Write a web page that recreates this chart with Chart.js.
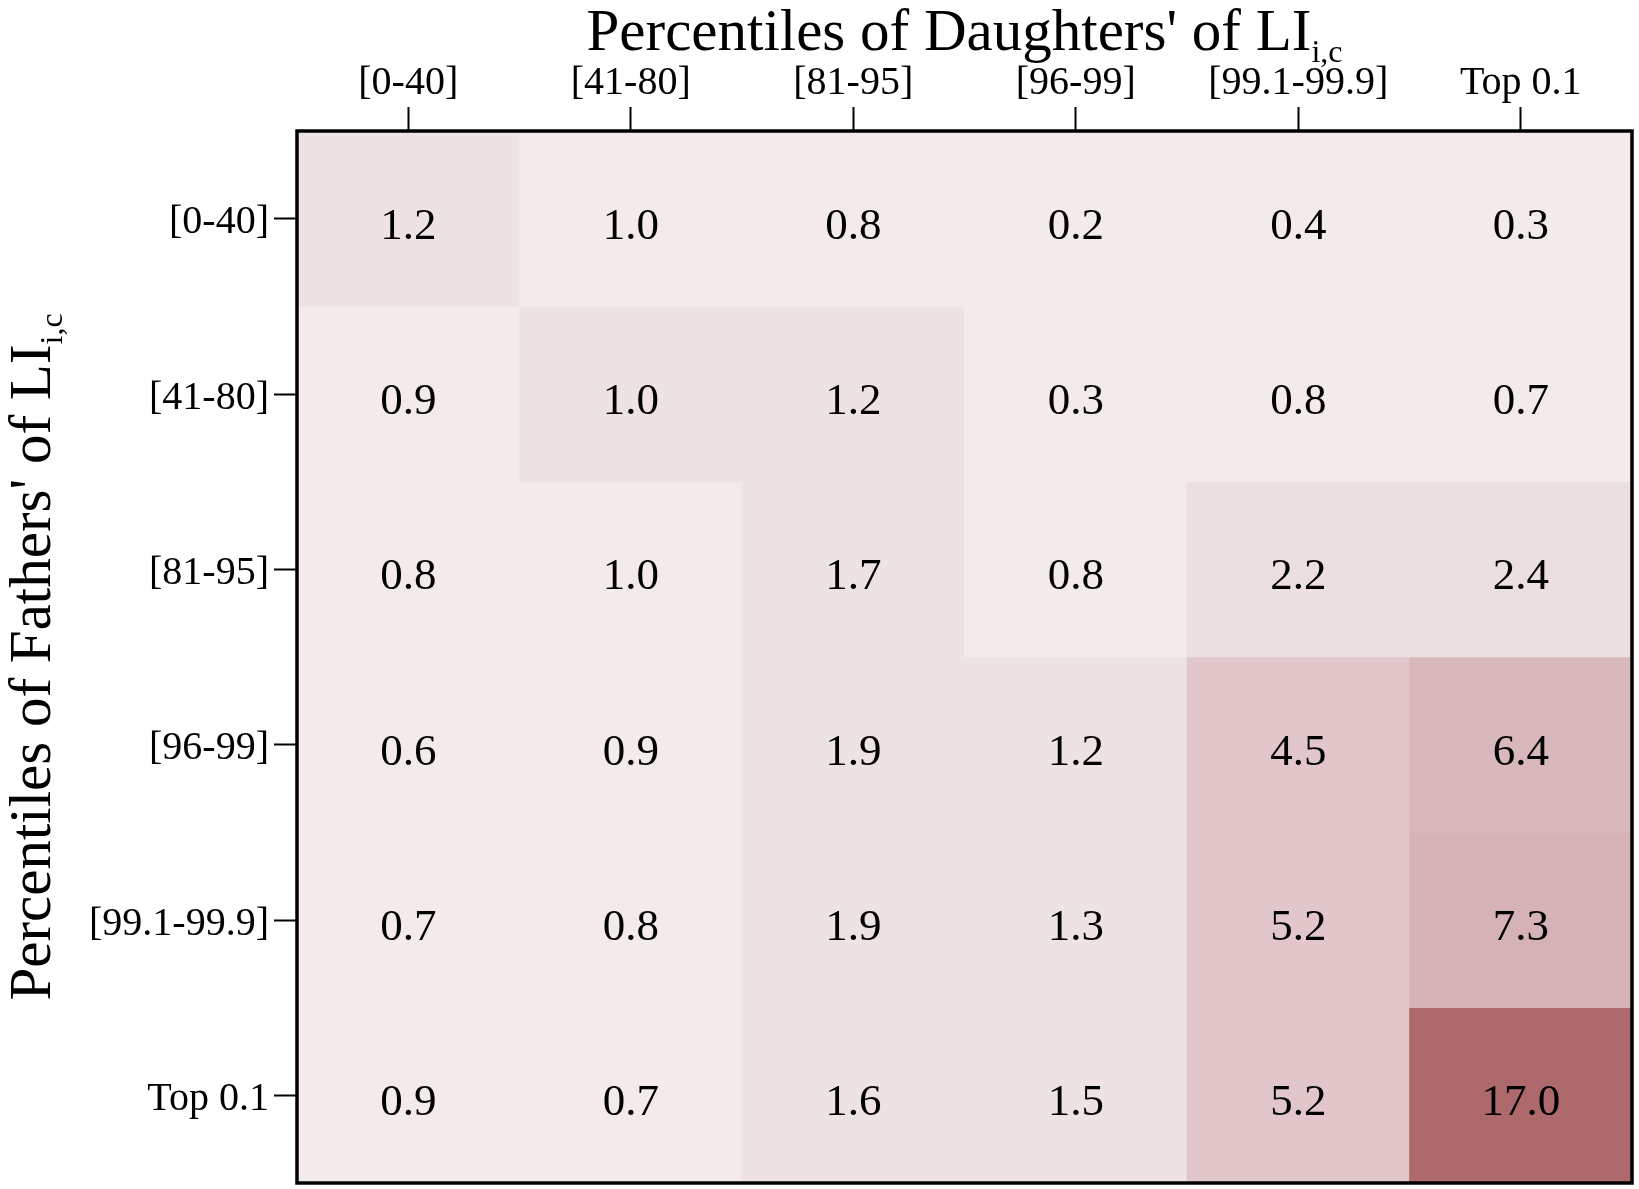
<!DOCTYPE html>
<html>
<head>
<meta charset="utf-8">
<script src="https://cdn.jsdelivr.net/npm/chart.js@4"></script>
<style>
html,body{margin:0;padding:0;background:#fff;}
#wrap{width:1639px;height:1189px;position:relative;}
</style>
</head>
<body>
<div id="wrap"><canvas id="c"></canvas></div>
<script>
// Categories (percentile groups)
const daughters = ['[0-40]', '[41-80]', '[81-95]', '[96-99]', '[99.1-99.9]', 'Top 0.1'];
const fathers = ['[0-40]', '[41-80]', '[81-95]', '[96-99]', '[99.1-99.9]', 'Top 0.1'];

// Cell values, one array per fathers' row (columns = daughters' groups)
const row_0_40    = [1.2, 0.98, 0.8, 0.2, 0.4, 0.3];
const row_41_80   = [0.9, 1.02, 1.2, 0.3, 0.8, 0.7];
const row_81_95   = [0.8, 0.98, 1.7, 0.8, 2.2, 2.4];
const row_96_99   = [0.6, 0.9, 1.9, 1.2, 4.5, 6.4];
const row_991_999 = [0.7, 0.8, 1.9, 1.3, 5.2, 7.3];
const row_top01   = [0.9, 0.7, 1.6, 1.5, 5.2, 17.0];
const rows = [row_0_40, row_41_80, row_81_95, row_96_99, row_991_999, row_top01];

// Binned colour scale
const binEdges  = [1.0, 2.0, 3.0, 6.0, 7.0, 10.0];
const binColors = ['#f3eaea', '#eee3e3', '#ecdfdf', '#e1c7ca', '#d8b8bb', '#d5b2b5', '#ae696d'];
function colorFor(v) {
  let i = 0;
  while (i < binEdges.length && v >= binEdges[i]) i++;
  return binColors[i];
}

const FONT = "'Liberation Serif', 'Times New Roman', serif";

const datasets = rows.map((vals, r) => ({
  label: fathers[r],
  data: vals.map((v, j) => ({ x: daughters[j], y: [r, r + 1], v: v })),
  backgroundColor: ctx => colorFor(ctx.raw.v),
  borderWidth: 0,
  barPercentage: 1.0,
  categoryPercentage: 1.0,
  grouped: false
}));

const cellLabels = {
  id: 'cellLabels',
  afterDatasetsDraw(chart) {
    const ctx = chart.ctx;
    ctx.save();
    ctx.font = '45px ' + FONT;
    ctx.fillStyle = '#000';
    ctx.textAlign = 'center';
    ctx.textBaseline = 'alphabetic';
    chart.data.datasets.forEach((ds, di) => {
      const meta = chart.getDatasetMeta(di);
      meta.data.forEach((el, i) => {
        const v = ds.data[i].v;
        const cy = (el.y + el.base) / 2;
        ctx.fillText(v.toFixed(1), el.x, cy + 20);
      });
    });
    ctx.restore();
  }
};

const frameAndTitles = {
  id: 'frameAndTitles',
  afterDraw(chart) {
    const ctx = chart.ctx;
    const a = chart.chartArea;
    ctx.save();
    ctx.strokeStyle = '#000';
    ctx.lineWidth = 3.5;
    ctx.strokeRect(a.left, a.top, a.right - a.left, a.bottom - a.top);

    function drawSubTitle(main, sub, cx, baseY) {
      ctx.font = '59px ' + FONT;
      const w1 = ctx.measureText(main).width;
      ctx.font = '32px ' + FONT;
      const w2 = ctx.measureText(sub).width;
      const x0 = cx - (w1 + w2) / 2;
      ctx.fillStyle = '#000';
      ctx.textAlign = 'left';
      ctx.textBaseline = 'alphabetic';
      ctx.font = '59px ' + FONT;
      ctx.fillText(main, x0, baseY);
      ctx.font = '32px ' + FONT;
      ctx.fillText(sub, x0 + w1, baseY + 12);
    }
    // Top title
    drawSubTitle("Percentiles of Daughters' of LI", 'i,c', (a.left + a.right) / 2, 50);
    // Left (rotated) title
    ctx.save();
    ctx.translate(50, (a.top + a.bottom) / 2);
    ctx.rotate(-Math.PI / 2);
    drawSubTitle("Percentiles of Fathers' of LI", 'i,c', 0, 0);
    ctx.restore();
    ctx.restore();
  }
};

new Chart(document.getElementById('c'), {
  type: 'bar',
  data: { labels: daughters, datasets: datasets },
  options: {
    responsive: true,
    maintainAspectRatio: false,
    animation: false,
    devicePixelRatio: 1,
    layout: { padding: { left: 0, top: 0, right: 7, bottom: 6 } },
    plugins: { legend: { display: false }, tooltip: { enabled: false }, title: { display: false } },
    scales: {
      x: {
        type: 'category',
        position: 'top',
        offset: true,
        grid: { offset: false, drawOnChartArea: false, drawTicks: true, tickLength: 24, tickWidth: 2, tickColor: '#000' },
        border: { display: false },
        ticks: { color: '#000', padding: 0, maxRotation: 0, autoSkip: false, font: { family: FONT, size: 40 } },
        afterFit(scale) { scale.height = 131; scale.paddingLeft = 0; scale.paddingRight = 0; }
      },
      y: {
        type: 'linear',
        min: 0,
        max: 6,
        reverse: true,
        grid: { drawOnChartArea: false, drawTicks: true, tickLength: 23, tickWidth: 2, tickColor: '#000' },
        border: { display: false },
        afterBuildTicks(scale) {
          scale.ticks = fathers.map((f, i) => ({ value: i + 0.5 }));
        },
        ticks: {
          color: '#000', padding: 5, autoSkip: false, labelOffset: 4,
          font: { family: FONT, size: 40 },
          callback: (value) => fathers[Math.floor(value)]
        },
        afterFit(scale) { scale.width = 297; scale.paddingTop = 0; scale.paddingBottom = 0; }
      }
    }
  },
  plugins: [cellLabels, frameAndTitles]
});
</script>
</body>
</html>
